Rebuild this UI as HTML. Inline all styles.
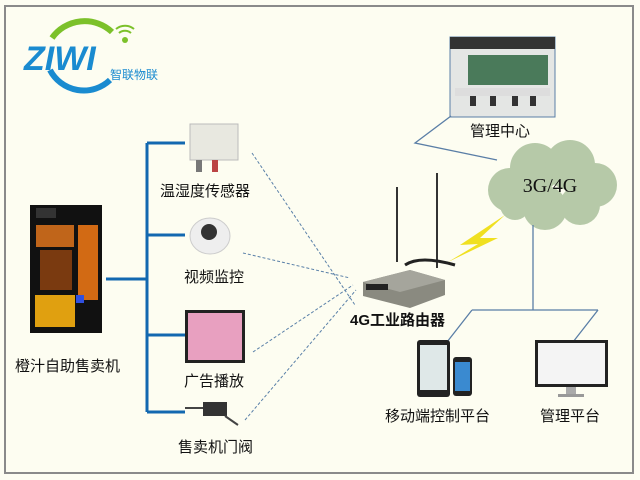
<!DOCTYPE html>
<html><head><meta charset="utf-8"><style>
body{margin:0;background:#fff}
svg{display:block}
text{font-family:"Liberation Sans","Noto Sans CJK SC",sans-serif}
</style></head><body>
<svg width="640" height="480" viewBox="0 0 640 480">
<rect width="640" height="480" fill="#fdfdf2"/>
<rect x="5" y="6" width="628" height="467" fill="#fdfdf1" stroke="#8a8a8a" stroke-width="2"/>
<!-- logo -->
<path d="M52 38 A40 40 0 0 1 112 32" fill="none" stroke="#7cc12a" stroke-width="6"/>
<path d="M50 70 A38 38 0 0 0 110 80" fill="none" stroke="#1a8bd0" stroke-width="6"/>
<text x="24" y="70" font-size="34" font-weight="bold" fill="#1a8bd0" font-style="italic">ZIWI</text>
<circle cx="125" cy="40" r="3" fill="#7cc12a"/>
<path d="M119 33 A9 9 0 0 1 131 33 M116 29 A14 14 0 0 1 134 29" fill="none" stroke="#7cc12a" stroke-width="2"/>
<text x="110" y="79" font-size="12" fill="#1a8bd0">智联物联</text>
<!-- blue tree -->
<g stroke="#1268b0" stroke-width="3" fill="none">
<path d="M106 279 H147 M147 143 V412 M147 143 H185 M147 235 H185 M147 335 H185 M147 412 H185"/>
</g>
<!-- vending machine -->
<rect x="30" y="205" width="72" height="128" fill="#111"/>
<rect x="36" y="208" width="20" height="10" fill="#333"/>
<rect x="36" y="225" width="38" height="22" fill="#c0651a"/>
<rect x="40" y="250" width="32" height="40" fill="#7a3a10"/>
<rect x="78" y="225" width="20" height="75" fill="#d26a14"/>
<rect x="35" y="295" width="40" height="32" fill="#e0a010"/>
<rect x="76" y="295" width="8" height="8" fill="#3050e0"/>
<!-- sensor -->
<rect x="190" y="124" width="48" height="36" fill="#e8e8e0" stroke="#bbb"/>
<rect x="196" y="160" width="6" height="12" fill="#777"/><rect x="212" y="160" width="6" height="12" fill="#b44"/>
<!-- camera -->
<ellipse cx="210" cy="236" rx="20" ry="18" fill="#eee" stroke="#ccc"/>
<circle cx="209" cy="232" r="8" fill="#333"/>
<!-- ad display -->
<rect x="185" y="310" width="60" height="53" fill="#222"/>
<rect x="188" y="313" width="54" height="47" fill="#e8a0c0"/>
<!-- valve -->
<rect x="203" y="402" width="24" height="14" fill="#333"/>
<path d="M185 408 H203 M225 416 L238 425" stroke="#444" stroke-width="2"/>
<!-- dashed lines -->
<g stroke="#5a80a8" stroke-width="1" stroke-dasharray="3,2" fill="none">
<path d="M252 153 L355 305"/><path d="M243 253 L350 278"/><path d="M253 352 L353 285"/><path d="M245 420 L356 290"/>
</g>
<!-- router -->
<path d="M397 187 V262 M437 173 V268" stroke="#333" stroke-width="2"/>
<path d="M405 265 Q420 255 455 265" stroke="#222" stroke-width="3" fill="none"/>
<path d="M363 282 L410 270 L445 280 L445 295 L410 308 L363 296 Z" fill="#8a8a80"/>
<path d="M363 282 L410 270 L445 280 L400 292 Z" fill="#a5a59c"/>
<rect x="366" y="284" width="22" height="6" fill="#222"/>
<!-- lightning -->
<path d="M505 215 L460 245 L478 244 L448 262 L498 238 L480 238 Z" fill="#f0e020"/>
<!-- cloud -->
<g fill="#b6c9a8">
<circle cx="510" cy="190" r="22"/><circle cx="535" cy="168" r="25"/><circle cx="570" cy="165" r="25"/><circle cx="595" cy="185" r="22"/><circle cx="580" cy="205" r="20"/><circle cx="545" cy="208" r="22"/><circle cx="515" cy="205" r="15"/>
</g>
<text x="550" y="192" font-size="20" text-anchor="middle" fill="#111" style="font-family:'Liberation Serif',serif">3G/4G</text>
<!-- control center -->
<rect x="450" y="37" width="105" height="80" fill="#e4e6e4" stroke="#5a7ea6"/>
<rect x="450" y="37" width="105" height="12" fill="#333"/>
<rect x="468" y="55" width="80" height="30" fill="#4a7a5a"/>
<rect x="455" y="88" width="95" height="8" fill="#ddd"/>
<g fill="#333"><rect x="470" y="96" width="6" height="10"/><rect x="490" y="96" width="6" height="10"/><rect x="512" y="96" width="6" height="10"/><rect x="530" y="96" width="6" height="10"/></g>
<g stroke="#5a7ea6" stroke-width="1.3" fill="none">
<path d="M451 116 L415 143 L497 160"/>
<path d="M533 225 V310 M472 310 H598 M472 310 L447 342 M598 310 L573 342"/>
</g>
<!-- mobile -->
<rect x="417" y="340" width="33" height="57" rx="3" fill="#222"/><rect x="420" y="345" width="27" height="45" fill="#dfe8e8"/>
<rect x="453" y="357" width="19" height="39" rx="3" fill="#222"/><rect x="455" y="362" width="15" height="29" fill="#3a8ad0"/>
<!-- monitor -->
<rect x="535" y="340" width="73" height="47" fill="#222"/><rect x="538" y="343" width="67" height="41" fill="#f4f4f4"/>
<rect x="566" y="387" width="10" height="7" fill="#aaa"/><rect x="558" y="394" width="26" height="3" fill="#999"/>
<!-- labels -->
<g font-size="15" fill="#111">
<text x="15" y="371">橙汁自助售卖机</text>
<text x="160" y="196">温湿度传感器</text>
<text x="184" y="282">视频监控</text>
<text x="184" y="386">广告播放</text>
<text x="178" y="452">售卖机门阀</text>
<text x="470" y="136">管理中心</text>
<text x="385" y="421">移动端控制平台</text>
<text x="540" y="421">管理平台</text>
</g>
<text x="350" y="325" font-size="15" font-weight="bold" fill="#111">4G工业路由器</text>
</svg>
</body></html>
